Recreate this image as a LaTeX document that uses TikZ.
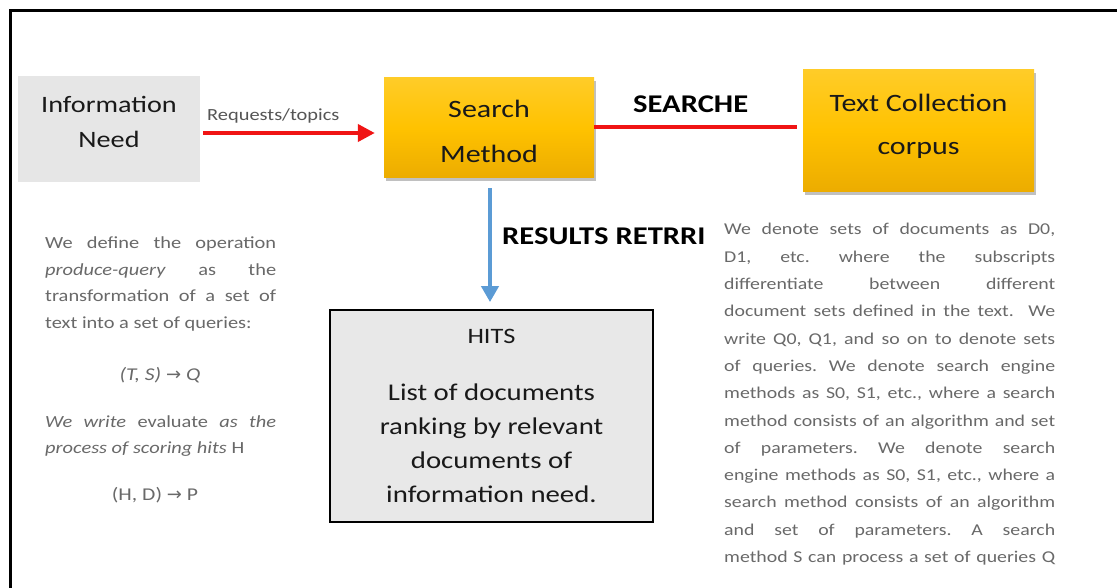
\documentclass[tikz,border=0pt]{standalone}
\usepackage{fontspec}
\setmainfont{Carlito}[FakeStretch=1.2]
\newfontfamily\symf{DejaVu Sans}
\usetikzlibrary{arrows.meta,shadows}
\definecolor{boxgray}{RGB}{230,230,230}
\definecolor{hitsgray}{RGB}{232,232,232}
\definecolor{redline}{RGB}{240,20,20}
\definecolor{blueline}{RGB}{91,155,213}
\definecolor{goldtop}{RGB}{255,204,40}
\definecolor{goldmid}{RGB}{255,194,0}
\definecolor{goldbot}{RGB}{236,172,0}
\definecolor{darktext}{RGB}{25,25,25}
\definecolor{sidetext}{RGB}{105,105,105}
\definecolor{labeltext}{RGB}{85,85,85}
\frenchspacing
\begin{document}
\begin{tikzpicture}[x=1pt,y=-1pt,
  graybox/.style={fill=boxgray, draw=none, inner sep=0pt},
  goldbox/.style={top color=goldtop, bottom color=goldbot, middle color=goldmid, draw=none, inner sep=0pt,
    drop shadow={shadow xshift=2pt, shadow yshift=-3pt, opacity=0.35, fill=black!70}},
  hitsbox/.style={fill=hitsgray, draw=black, line width=1.8pt, inner sep=0pt},
  boxtxt/.style={align=center, text=darktext, inner sep=0pt},
  para/.style={align=justify, text=sidetext, inner sep=0pt, font=\fontsize{17}{26.5}\selectfont},
  formula/.style={text=sidetext, inner sep=0pt, anchor=base, font=\fontsize{18}{20}\selectfont},
  redarrow/.style={draw=redline, line width=4pt, -{Triangle[length=17pt,width=17pt]}},
  redconn/.style={draw=redline, line width=4pt},
  bluearrow/.style={draw=blueline, line width=4pt, -{Triangle[length=16pt,width=17pt]}},
  boldlabel/.style={anchor=base west, inner sep=0pt, text=black, font=\bfseries\fontsize{25.5}{30}\selectfont}
]
\useasboundingbox (0,0) rectangle (1117,588);
\fill[white] (0,0) rectangle (1117,588);
% frame
\draw[line width=3pt] (10,588) -- (10,11) -- (1117,11);

% boxes
\node[graybox, minimum width=182pt, minimum height=106pt] (info) at (109,129) {};
\node[boxtxt, font=\fontsize{23.5}{35}\selectfont] (infotxt) at (109,122) {Information\\Need};

\node[goldbox, minimum width=210pt, minimum height=100pt] (search) at (489,128) {};
\node[boxtxt, font=\fontsize{25}{45}\selectfont] (searchtxt) at (489,131) {Search\\Method};

\node[goldbox, minimum width=231pt, minimum height=122pt] (corpus) at (918.5,131) {};
\node[boxtxt, font=\fontsize{25}{43}\selectfont] (corpustxt) at (918.5,126) {Text Collection\\corpus};

\node[hitsbox, minimum width=323pt, minimum height=212pt] (hits) at (491.5,416) {};
\node[boxtxt, font=\fontsize{22}{26}\selectfont] (hitstitle) at (491.5,336) {HITS};
\node[boxtxt, font=\fontsize{24}{34}\selectfont] (hitsbody) at (491.5,443) {List of documents\\ranking by relevant\\documents of\\information need.};

% connectors
\draw[redarrow, shorten <=3pt, shorten >=9pt] ([yshift=-4pt]info.east) -- ([yshift=-5pt]search.west);
\draw[redconn, shorten >=6pt] ([yshift=1pt]search.east) -- ([yshift=4pt]corpus.west);
\draw[bluearrow, shorten <=10pt, shorten >=7pt] ([xshift=1pt]search.south) -- ([xshift=-1.5pt]hits.north);

% labels
\node[anchor=base west, inner sep=0pt, text=labeltext, font=\fontsize{17}{20}\selectfont] (req) at (207,120.5) {Requests/topics};
\node[boldlabel] (searche) at (633,113) {SEARCHE};
\node[boldlabel] (results) at (502,245) {RESULTS RETRRI};

% left text
\node[para, text width=231pt, anchor=base west] (left1) at (45,249) {We define the operation\linebreak \emph{produce-query} as the\linebreak transformation of a set of\linebreak text into a set of queries:};
\node[formula] (f1) at (160,380) {\itshape (T, S) {\symf\upshape →} Q};
\node[para, text width=231pt, anchor=base west] (left2) at (45,427) {\emph{We write} evaluate \emph{as the}\linebreak \emph{process of scoring hits} H};
\node[formula] (f2) at (155,500) {(H, D) {\symf →} P};

% right text
\begin{scope}
\clip (700,200) rectangle (1117,566);
\node[para, font=\fontsize{16.5}{27.3}\selectfont, text width=331pt, anchor=base west] (right) at (724,235) {We denote sets of documents as D0,\linebreak D1, etc. where the subscripts\linebreak differentiate between different\linebreak document sets defined in the text.\ \ We\linebreak write Q0, Q1, and so on to denote sets\linebreak of queries. We denote search engine\linebreak methods as S0, S1, etc., where a search\linebreak method consists of an algorithm and set\linebreak of parameters. We denote search\linebreak engine methods as S0, S1, etc., where a\linebreak search method consists of an algorithm\linebreak and set of parameters. A search\linebreak method S can process a set of queries Q\linebreak};
\end{scope}
\end{tikzpicture}
\end{document}
